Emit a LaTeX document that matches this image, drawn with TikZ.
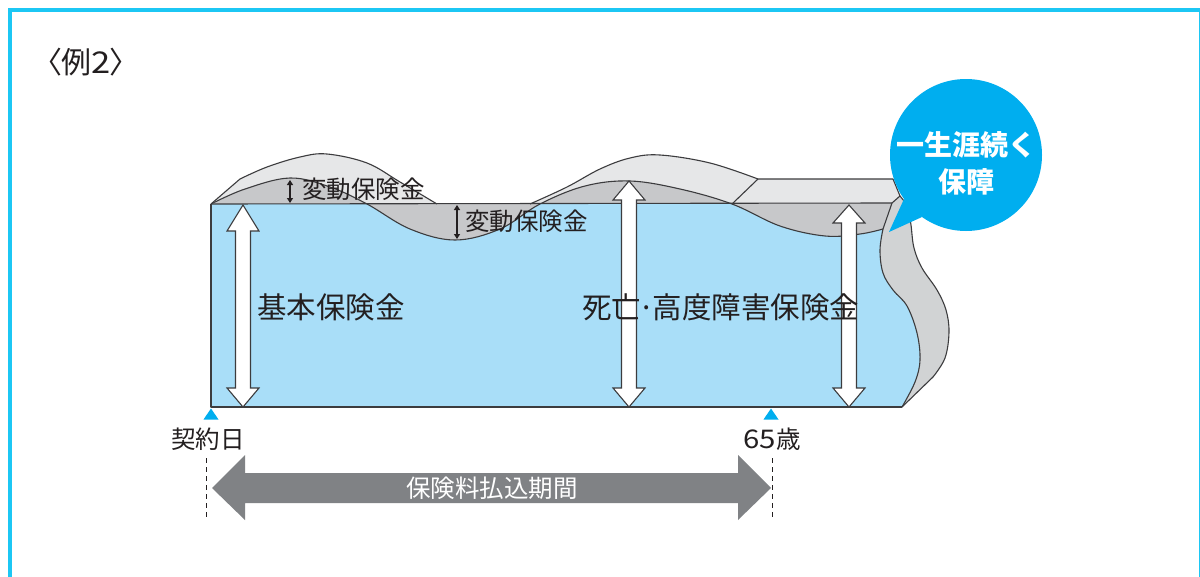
\documentclass[tikz,border=0pt]{standalone}
\usepackage{fontspec}
\newfontfamily\jp{Noto Sans CJK JP}
\newfontfamily\jpprop{Noto Sans CJK JP}[RawFeature=+palt]
\usetikzlibrary{arrows.meta}
\definecolor{framecyan}{HTML}{1CC7F4}
\definecolor{bubble}{HTML}{00AEEF}
\definecolor{face}{HTML}{A9DEF8}
\definecolor{topgray}{HTML}{E6E7E8}
\definecolor{midgray}{HTML}{D1D3D4}
\definecolor{darkgray}{HTML}{C7C8CA}
\definecolor{outline}{HTML}{3C3C3E}
\definecolor{ink}{HTML}{231F20}
\definecolor{bandgray}{HTML}{808285}

% wave outlines of the policy block (pixel-like units, y downwards);
% each one continues the current path from its first point
\def\innerwave{-- plot[smooth,tension=0.6] coordinates {(211,204) (245,189) (290,178) (330,187) (367,204) (410,229) (455,240) (500,229) (540,204) (585,186) (630,181) (680,189) (732,204) (780,226) (825,236) (860,234) (883,229)}}
\def\outerwaveA{-- plot[smooth,tension=0.6] coordinates {(240,179) (267,167) (300,157) (327,154) (367,163) (400,182) (437,204)}}
\def\outerwaveB{-- plot[smooth,tension=0.6] coordinates {(530,204) (567,187) (600,169) (630,158) (660,155) (710,163) (758,179)}}
\def\frontedge{-- plot[smooth,tension=0.6] coordinates {(883,229) (880,250) (883,273) (893,290) (907,306) (917,333) (920,360) (915,382) (902,407)}}
\def\frontedgeback{-- plot[smooth,tension=0.6] coordinates {(902,407) (915,382) (920,360) (917,333) (907,306) (893,290) (883,273) (880,250) (883,229)}}
\def\sideedge{-- plot[smooth,tension=0.6] coordinates {(908,206) (911,225) (914,248) (922,268) (937,290) (946,310) (949,332) (945,358) (933,377)}}

% hollow double arrow: x, top tip, bottom tip, top head length
\newcommand\hollowarrow[4]{%
  \draw[hollow] ({#1},{#2}) -- ({#1+16},{#2+#4}) -- ({#1+7.5},{#2+#4}) -- ({#1+7.5},{#3-19}) -- ({#1+16},{#3-19}) -- ({#1},{#3}) -- ({#1-16},{#3-19}) -- ({#1-7.5},{#3-19}) -- ({#1-7.5},{#2+#4}) -- ({#1-16},{#2+#4}) -- cycle;}

\begin{document}
\begin{tikzpicture}[x=1pt,y=-1pt,
  edge/.style={draw=outline,line width=1.1pt,line join=round},
  hollow/.style={draw=outline,fill=white,line width=1.1pt,line join=miter},
  lbl/.style={font=\jp,text=ink,inner sep=0pt},
  smallarrow/.style={draw=ink,line width=1.2pt,{Triangle[length=5pt,width=6pt]}-{Triangle[length=5pt,width=6pt]}},
  marker/.style={fill=bubble,draw=none},
  guide/.style={draw=ink,line width=1pt,dash pattern=on 5pt off 4pt}]
\useasboundingbox (0,0) rectangle (1200,576);
\fill[white] (0,0) rectangle (1200,576);

% outer frame
\draw[framecyan,line width=4pt] (10,10) rectangle (1201,600);

\node[lbl,font=\jpprop\fontsize{30}{32}\selectfont] (title) at (86,62) {〈例\scalebox{1.15}[1]{2}〉};

% front face
\fill[face] (211,204) -- (892,203) -- (883,229) \frontedge -- (211,407) -- cycle;
% top surface
\fill[topgray] (211,204) -- (240,179) \outerwaveA -- (530,204) \outerwaveB -- (893,179) -- (900,196) -- (892,203) -- cycle;
% right side strip
\fill[midgray] (892,203) -- (900,196) -- (908,206) \sideedge -- (902,407) \frontedgeback -- cycle;
% variable band
\fill[darkgray] (211,204) \innerwave -- (892,203) -- cycle;

% outlines
\draw[edge] (211,204) -- (211,407) -- (902,407);
\draw[edge] (211,204) -- (892,203);
\draw[edge] (211,204) \innerwave;
\draw[edge] (211,204) -- (240,179) \outerwaveA;
\draw[edge] (530,204) \outerwaveB -- (893,179) -- (900,196) -- (892,203) -- (883,229);
\draw[edge] (732,204) -- (758,179);
\draw[edge] (883,229) \frontedge;
\draw[edge] (900,196) -- (908,206) \sideedge -- (902,407);

% amount arrows
\hollowarrow{243}{205}{407}{26}
\hollowarrow{629}{181}{407}{19}
\hollowarrow{849}{205}{407}{18}

\draw[smallarrow] (290,180) -- (290,203);
\draw[smallarrow] (457,205) -- (457,239);

\node[lbl,anchor=west,font=\jp\fontsize{24.5}{28}\selectfont] (var1) at (302,189) {変動保険金};
\node[lbl,anchor=west,font=\jp\fontsize{24.5}{28}\selectfont] (var2) at (465,221) {変動保険金};
\node[lbl,anchor=west,font=\jp\fontsize{29.5}{32}\selectfont] (basic) at (257,307) {基本保険金};
\node[lbl,anchor=west,font=\jp\fontsize{29.5}{32}\selectfont] (death) at (582,307) {死亡\kern-2.5pt·\kern-2.5pt高度障害保険金};

% speech bubble
\fill[bubble] (889,232) -- (904,199) -- (922,217) -- cycle;
\fill[bubble] (966,155) circle[radius=76];
\node[lbl,text=white,font=\jp\bfseries\fontsize{28}{30}\selectfont] (life1) at (966,145) {一生涯続く};
\node[lbl,text=white,font=\jp\bfseries\fontsize{28}{30}\selectfont] (life2) at (966,182) {保障};

% timeline
\fill[marker] (211,408.5) -- (218.5,419.5) -- (203.5,419.5) -- cycle;
\fill[marker] (771,408.5) -- (778.5,419.5) -- (763.5,419.5) -- cycle;
\node[lbl,font=\jp\fontsize{24.5}{28}\selectfont] (start) at (208,439) {契約日};
\node[lbl,font=\jp\fontsize{24.5}{28}\selectfont] (age) at (772,439) {\scalebox{1.2}[1.05]{65}歳};

\coordinate (g1a) at (206,458);
\coordinate (g1b) at (206,520);
\coordinate (g2a) at (772,458);
\coordinate (g2b) at (772,520);
\draw[guide] (g1a) -- (g1b);
\draw[guide] (g2a) -- (g2b);

\fill[bandgray] (212,488) -- (245,455) -- (245,473) -- (738,473) -- (738,455) -- (771,488) -- (738,520) -- (738,503) -- (245,503) -- (245,520) -- cycle;
\node[lbl,text=white,font=\jp\fontsize{24.5}{28}\selectfont] (period) at (492,488) {保険料払込期間};
\end{tikzpicture}
\end{document}
